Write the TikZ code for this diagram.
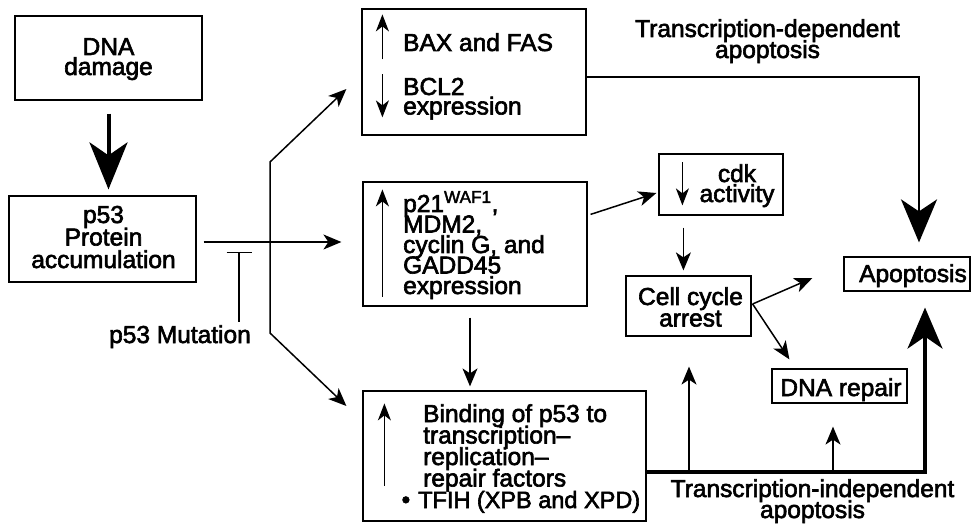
\documentclass[tikz,border=0pt]{standalone}
\usepackage{fontspec}
\setmainfont[FakeBold=2.5]{Liberation Sans}
\usetikzlibrary{arrows.meta,calc}

% stacked lines with a fixed baseline distance; the node baseline is the first line
\newcommand\stackc[1]{\vtop{\lineskiplimit=-50pt\halign{\hfil##\hfil\cr#1\crcr}}}
\newcommand\stackl[1]{\vtop{\lineskiplimit=-50pt\halign{##\hfil\cr#1\crcr}}}

\begin{document}
\begin{tikzpicture}[x=1pt,y=-1pt,line join=miter,
  box/.style={draw,line width=1.2pt,inner sep=0pt},
  txt/.style={inner sep=0pt,font=\fontsize{24.5}{#1}\selectfont},
  txt/.default=21pt,
  >={Stealth[length=18pt,width=15pt,inset=5pt]},
  conn/.style={line width=1.5pt,->},
  sign/.style={line width=1.5pt,-{Stealth[length=17pt,width=13pt,inset=5pt]}},
  heavy/.style={-{Stealth[length=43pt,width=36pt,inset=12pt]}}]
\useasboundingbox (0,0) rectangle (971,526);

% boxes
\node[box,minimum width=187pt,minimum height=84pt] (dna)  at (108.5,58) {};
\node[box,minimum width=187pt,minimum height=86pt] (p53)  at (102.5,239) {};
\node[box,minimum width=224pt,minimum height=126pt] (bax) at (474,72) {};
\node[box,minimum width=224pt,minimum height=124pt] (p21) at (475,244) {};
\node[box,minimum width=283pt,minimum height=130pt] (bind) at (504.5,456) {};
\node[box,minimum width=124pt,minimum height=61pt] (cdk)  at (721,184.5) {};
\node[box,minimum width=125pt,minimum height=60pt] (cell) at (688.5,306) {};
\node[box,minimum width=126pt,minimum height=34pt] (apo)  at (907,274) {};
\node[box,minimum width=135pt,minimum height=34pt] (rep)  at (839.5,386) {};

% texts
\node[txt=20pt,anchor=base] (dnat) at (108.5,55) {\stackc{DNA\cr damage}};
\node[txt=22.5pt,anchor=base] (p53t) at (103.5,223) {\stackc{p53\cr Protein\cr accumulation}};
\node[txt,anchor=base west] (baxt) at (403,51) {BAX and FAS};
\node[txt=19.5pt,anchor=base west] (bclt) at (403,95) {\stackl{BCL2\cr expression}};
\node[txt=20.5pt,anchor=base west] (p21t) at (403,212)
  {\stackl{p21\textsuperscript{WAF1},\cr MDM2,\cr cyclin G, and\cr GADD45\cr expression}};
\node[txt=20pt,anchor=base] (cdkt) at (737,182) {\stackc{cdk\cr activity}};
\node[txt=21.5pt,anchor=base] (cellt) at (690.5,305) {\stackc{Cell cycle\cr arrest}};
\node[txt,anchor=base west] (apot) at (859,282) {Apoptosis};
\node[txt,anchor=base] (rept) at (841,396) {DNA repair};
\node[txt=21.5pt,anchor=base west] (bindt) at (423,422)
  {\stackl{Binding of p53 to\cr transcription--\cr replication--\cr repair factors\cr
   \kern-5pt\llap{\textbullet\hspace{8pt}}{\fontsize{23.5}{21.5}\selectfont TFIH (XPB and XPD)}}};
\node[txt=21pt,anchor=base] (dept) at (767.5,37) {\stackc{Transcription-dependent\cr apoptosis}};
\node[txt=21pt,anchor=base] (indt) at (812.5,497) {\stackc{Transcription-independent\cr apoptosis}};
\node[txt,anchor=base] (mut) at (180,343) {p53 Mutation};

% up/down signs inside the boxes
\draw[sign] ($(bax.north west)+(21,51)$) -- ($(bax.north west)+(21,6)$);
\draw[sign] ($(bax.north west)+(21,66)$) -- ($(bax.north west)+(21,109)$);
\draw[sign] ($(p21.south west)+(20,-10)$) -- ($(p21.north west)+(20,8)$);
\draw[sign] ($(cdk.north west)+(24,9)$) -- ($(cdk.north west)+(24,52)$);
\draw[sign] ($(bind.south west)+(22,-36)$) -- ($(bind.north west)+(22,13)$);

% DNA damage leads to p53 accumulation
\draw[line width=4pt,-{Stealth[length=47pt,width=38pt,inset=13pt]},
  shorten <=13pt,shorten >=6pt] (dna.south) -- (dna.south |- p53.north);

% p53 to its targets
\draw[conn] ($(p53.east)+(7,3)$) -- ($(p21.west)+(-21,-2)$);
\coordinate (forkt) at (270,162);
\coordinate (forkb) at (270,333);
\coordinate (baxin) at ($(bax.west)+(-15,17)$);
\coordinate (bindin) at ($(bind.west)+(-16,-50)$);
\draw[line width=1.5pt,<->] (baxin) -- (forkt) -- (forkb) -- (bindin);

% mutation blocks the pathway
\coordinate (inhibfoot) at (239,322);
\coordinate (inhibhead) at (239,252);
\draw[line width=1.5pt,-{Bar[width=25pt]}] (inhibfoot) -- (inhibhead);

% cell cycle branch
\draw[conn] ($(p21.north east)+(3,33)$) -- ($(cdk.west)+(-2,8.5)$);
\coordinate (cdkout) at ($(cdk.south west)+(25,0)$);
\draw[conn,shorten <=12pt,shorten >=5pt] (cdkout) -- (cdkout |- cell.north);
\coordinate (p21out) at ($(p21.south)+(-5,0)$);
\draw[conn,shorten <=11pt,shorten >=4pt] (p21out) -- (p21out |- bind.north);
\coordinate (cellout) at ($(cell.east)+(1,-2)$);
\draw[conn] (cellout) -- ($(apo.west)+(-31,4)$);
\draw[conn] (cellout) -- ($(rep.north west)+(18,-9)$);

% transcription-dependent apoptosis
\draw[heavy,line width=2.6pt,shorten >=14pt] ([yshift=-5pt]bax.east) -| ([xshift=12pt]apo.north);

% transcription-independent apoptosis
\draw[line width=3.2pt,-{Stealth[length=41pt,width=35pt,inset=12pt]},shorten >=16pt]
  ([yshift=-16pt]bind.east) -| ([xshift=18pt]apo.south);
\coordinate (tapcell) at (689,472);
\coordinate (taprep) at (833,472);
\draw[conn,shorten >=30pt] (tapcell) -- (tapcell |- cell.south);
\draw[conn,shorten >=23pt] (taprep) -- (taprep |- rep.south);
\end{tikzpicture}
\end{document}
